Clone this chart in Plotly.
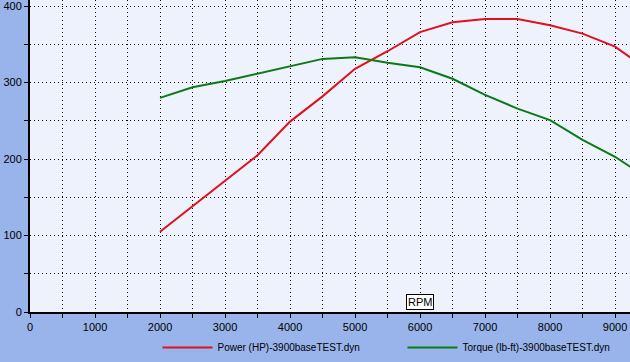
import plotly.graph_objects as go

rpm = [2000, 2500, 3000, 3500, 4000, 4500, 5000, 5500, 6000, 6500, 7000, 7500, 8000, 8500, 9000, 9500]
power_hp = [105, 138, 172, 205, 249, 282, 318, 341, 366, 379, 383, 383, 375, 364, 347, 317]
torque_lbft = [280, 294, 302, 312, 322, 331, 333, 326, 320, 305, 284, 266, 251, 225, 203, 175]

x_ticks = [0, 1000, 2000, 3000, 4000, 5000, 6000, 7000, 8000, 9000]
y_ticks = [0, 100, 200, 300, 400]

fig = go.Figure()
fig.add_trace(go.Scatter(x=rpm, y=power_hp, mode="lines", name="Power (HP)-3900baseTEST.dyn",
                         line=dict(color="#e0101c", width=2)))
fig.add_trace(go.Scatter(x=rpm, y=torque_lbft, mode="lines", name="Torque (lb-ft)-3900baseTEST.dyn",
                         line=dict(color="#0a7a14", width=2)))

grid = dict(showgrid=True, gridcolor="black", gridwidth=1, griddash="1px,3px")

fig.update_xaxes(range=[0, 9230], tickvals=x_ticks, ticks="outside", ticklen=4, tickcolor="black",
                 showline=True, linecolor="black", linewidth=2, zeroline=False, automargin=False,
                 ticklabeloverflow="allow", tickfont=dict(size=11),
                 minor=dict(dtick=500, showgrid=True, gridcolor="black", griddash="1px,3px",
                            ticks="outside", ticklen=4, tickcolor="black"),
                 **grid)
fig.update_yaxes(range=[0, 408], tickvals=y_ticks, ticks="outside", ticklen=4, tickcolor="black",
                 showline=True, linecolor="black", linewidth=2, zeroline=False, automargin=False,
                 ticklabeloverflow="allow", tickfont=dict(size=11),
                 minor=dict(dtick=50, showgrid=True, gridcolor="black", griddash="1px,3px",
                            ticks="outside", ticklen=4, tickcolor="black"),
                 **grid)

fig.add_annotation(x=6000, y=0, xref="x", yref="paper", yanchor="bottom", yshift=2,
                   text="RPM", showarrow=False, bgcolor="white", bordercolor="black",
                   borderwidth=1, borderpad=1, font=dict(size=11, color="black"))

fig.update_layout(
    width=630, height=362,
    margin=dict(l=30, r=0, t=0, b=50, autoexpand=False),
    paper_bgcolor="#98b4ea",
    plot_bgcolor="#eef2fd",
    font=dict(family="Liberation Sans, Arial, sans-serif", size=11, color="black"),
    showlegend=True,
    legend=dict(orientation="h", x=0.25, y=-0.03, xref="container", yref="container",
                xanchor="left", yanchor="bottom", itemwidth=50,
                bgcolor="rgba(0,0,0,0)", entrywidth=180, entrywidthmode="pixels",
                font=dict(size=10)),
)

fig.write_html("out.html", config={"displayModeBar": False},
               post_script="document.body.style.margin='0';")
